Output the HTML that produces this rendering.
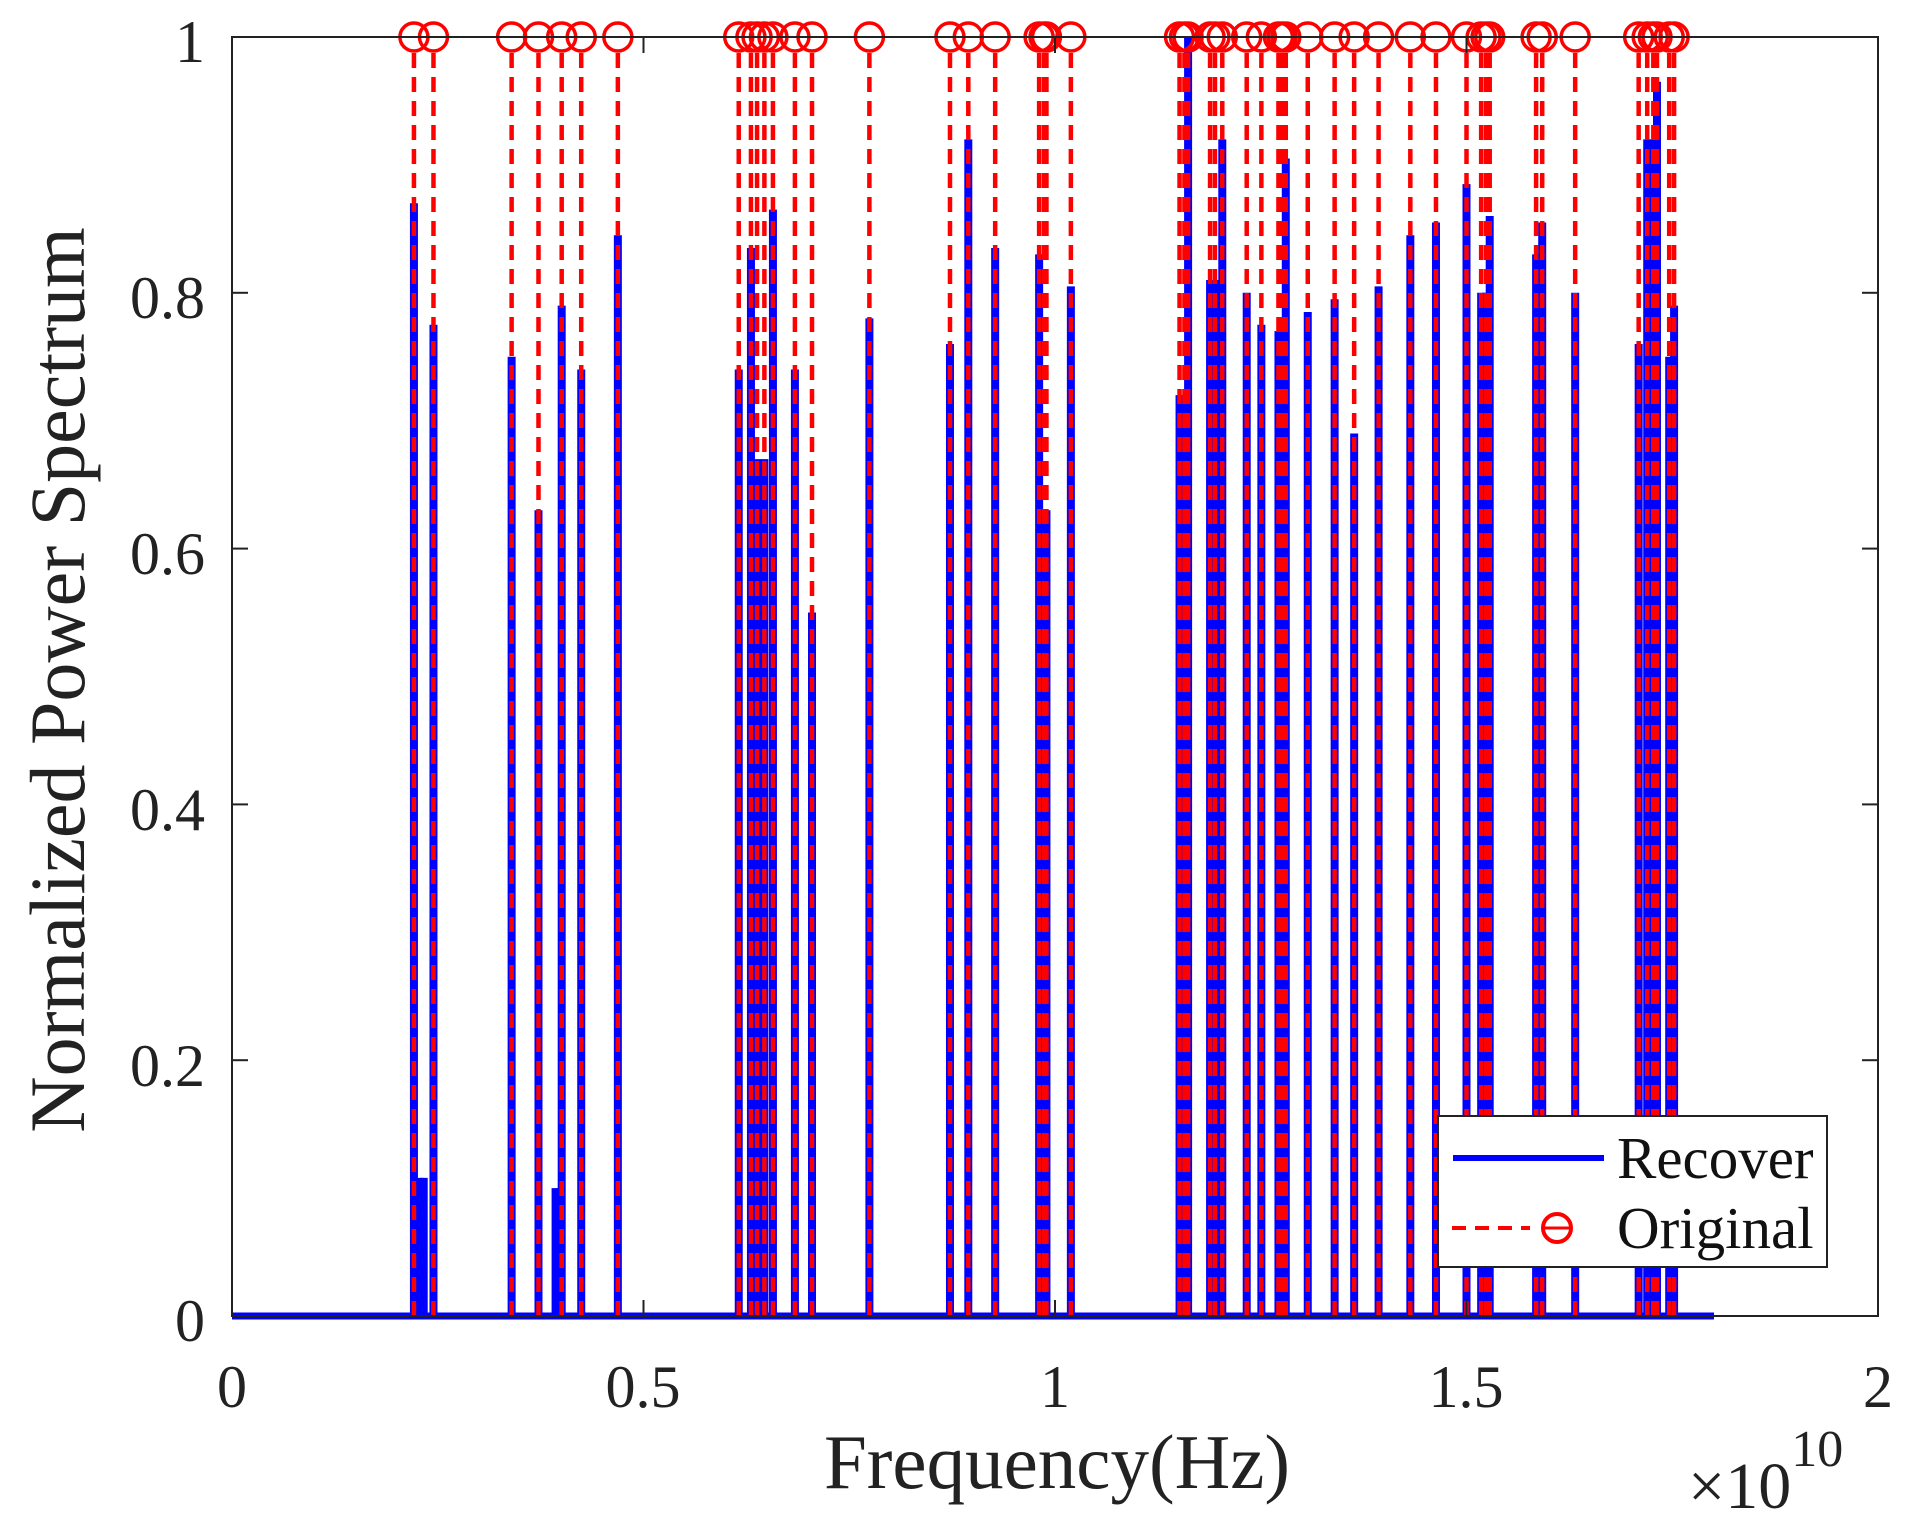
<!DOCTYPE html>
<html><head><meta charset="utf-8"><style>
body{margin:0;background:#fff;}
svg{display:block;font-family:"Liberation Serif",serif;}
</style></head><body>
<svg id="s" width="1913" height="1528" viewBox="0 0 1913 1528" xmlns="http://www.w3.org/2000/svg">
<rect width="1913" height="1528" fill="#fff"/>
<g id="plot"></g>
<rect x="232" y="37" width="1646" height="1279" fill="none" stroke="#222" stroke-width="2"/>
<g id="ticks" stroke="#222" stroke-width="2"></g>
<g font-size="60" fill="#222" text-anchor="end">
<text x="205" y="62">1</text>
<text x="205" y="318">0.8</text>
<text x="205" y="574">0.6</text>
<text x="205" y="830">0.4</text>
<text x="205" y="1086">0.2</text>
<text x="205" y="1341">0</text>
</g>
<g font-size="60" fill="#222" text-anchor="middle">
<text x="232" y="1407">0</text>
<text x="643" y="1407">0.5</text>
<text x="1055" y="1407">1</text>
<text x="1466" y="1407">1.5</text>
<text x="1878" y="1407">2</text>
</g>
<text x="1057" y="1488" font-size="77" fill="#222" text-anchor="middle">Frequency(Hz)</text>
<text x="1688" y="1508" font-size="66" fill="#222">×10<tspan font-size="52" dy="-42">10</tspan></text>
<text transform="translate(84,680) rotate(-90)" font-size="78" fill="#222" text-anchor="middle">Normalized Power Spectrum</text>
<g>
<rect x="1438" y="1116" width="389" height="151" fill="#fff" stroke="#222" stroke-width="2"/>
<line x1="1453" y1="1158" x2="1604" y2="1158" stroke="#0000ff" stroke-width="6"/>
<text x="1617" y="1178" font-size="59" fill="#111">Recover</text>
<line x1="1452" y1="1228" x2="1530" y2="1228" stroke="#ff0000" stroke-width="4" stroke-dasharray="14,9"/>
<circle cx="1557" cy="1228" r="14" fill="none" stroke="#ff0000" stroke-width="4"/>
<line x1="1543" y1="1228" x2="1571" y2="1228" stroke="#ff0000" stroke-width="3"/>
<text x="1617" y="1248" font-size="59" fill="#111">Original</text>
</g>
</svg>
<script>
(function(){
var NS="http://www.w3.org/2000/svg";
var g=document.getElementById('plot'),tk=document.getElementById('ticks');
function el(n,a,p){var e=document.createElementNS(NS,n);for(var k in a)e.setAttribute(k,a[k]);(p||g).appendChild(e);return e;}
var L=232,R=1878,T=37,B=1316;
function X(xd){return L+(xd-190)*1646/1348;}
function Y(v){return B-v*(B-T);}
for(var i=0;i<=4;i++){var x=L+i*(R-L)/4;el('line',{x1:x,y1:B,x2:x,y2:B-16},tk);el('line',{x1:x,y1:T,x2:x,y2:T+16},tk);}
for(var i=0;i<=5;i++){var y=B-i*(B-T)/5;el('line',{x1:L,y1:y,x2:L+16,y2:y},tk);el('line',{x1:R,y1:y,x2:R-16,y2:y},tk);}
var st=[[339,.87],[355,.775],[419,.75],[441,.63],[460,.79],[476,.74],[506,.845],
[605,.74],[615,.835],[620,.67],[626,.67],[633,.865],[651,.74],[665,.55],[712,.78],
[778,.76],[793,.92],[815,.835],[851,.83],[855,.63],[857,.63],[877,.805],
[966,.72],[970,.72],[973,1.0],[991,.81],[995,.81],[1001,.92],
[1021,.80],[1033,.775],[1047,.77],[1050,.77],[1053,.905],[1071,.785],
[1093,.795],[1109,.69],[1129,.805],[1155,.845],[1176,.855],
[1201,.885],[1213,.80],[1217,.80],[1220,.86],[1258,.83],[1263,.855],[1290,.80],
[1342,.76],[1349,.92],[1354,.92],[1357,.965],[1367,.75],[1371,.79]];
var blueOnly=[[344,.108],[347,.108],[455,.10],[458,.10]];
st.concat(blueOnly).forEach(function(s){var x=X(s[0]);el('line',{x1:x,y1:B,x2:x,y2:Y(s[1]),stroke:'#0000ff','stroke-width':8});});
el('line',{x1:L,y1:B,x2:1714,y2:B,stroke:'#0000ff','stroke-width':7});
st.forEach(function(s){var x=X(s[0]);el('line',{x1:x,y1:B,x2:x,y2:T+14,stroke:'#ff0000','stroke-width':4.5,'stroke-dasharray':'15,9'});});
st.forEach(function(s){var x=X(s[0]);el('circle',{cx:x,cy:T,r:14,fill:'none',stroke:'#ff0000','stroke-width':3.5});});
})();
</script>
</body></html>
